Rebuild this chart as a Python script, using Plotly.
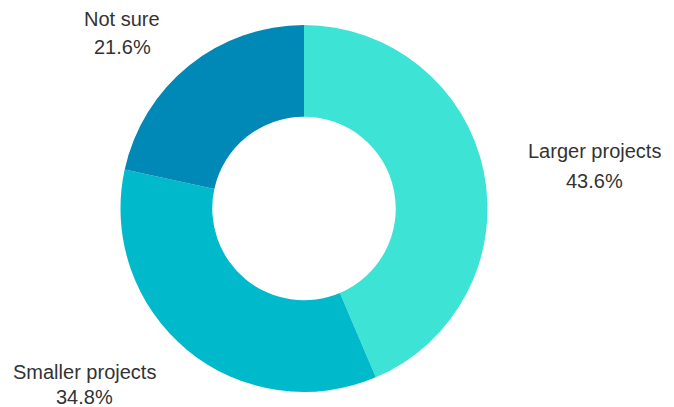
import plotly.graph_objects as go

categories = ["Larger projects", "Smaller projects", "Not sure"]
values = [43.6, 34.8, 21.6]
colors = ["#3de3d4", "#00b9ca", "#0089b7"]

W, H = 674, 407

fig = go.Figure(go.Pie(
    labels=categories,
    values=values,
    hole=0.5,
    sort=False,
    direction="clockwise",
    rotation=0,
    marker=dict(colors=colors, line=dict(width=0)),
    textinfo="none",
    hoverinfo="label+percent",
    domain=dict(x=[119 / W, 489 / W], y=[(H - 392) / H, (H - 25) / H]),
    showlegend=False,
))

# label positions in pixels: (center x, name baseline, percent baseline)
label_pos = [(594.5, 157, 187), (84.5, 378, 403), (122, 25, 53)]
font = dict(family="Liberation Sans, Arial, sans-serif", size=20, color="#333333")
annotations = []
for cat, val, (cx, b1, b2) in zip(categories, values, label_pos):
    for txt, base in ((cat, b1), (f"{val:.1f}%", b2)):
        annotations.append(dict(
            x=cx / W, y=1 - (base - 6) / H, xref="paper", yref="paper",
            text=txt, showarrow=False, xanchor="center", yanchor="middle",
            font=font,
        ))

fig.update_layout(
    width=W, height=H,
    margin=dict(l=0, r=0, t=0, b=0),
    paper_bgcolor="white", plot_bgcolor="white",
    annotations=annotations,
)

fig.write_html(
    "out.html",
    config={"displayModeBar": False},
    post_script="document.body.style.margin='0';document.body.style.overflow='hidden';",
)
